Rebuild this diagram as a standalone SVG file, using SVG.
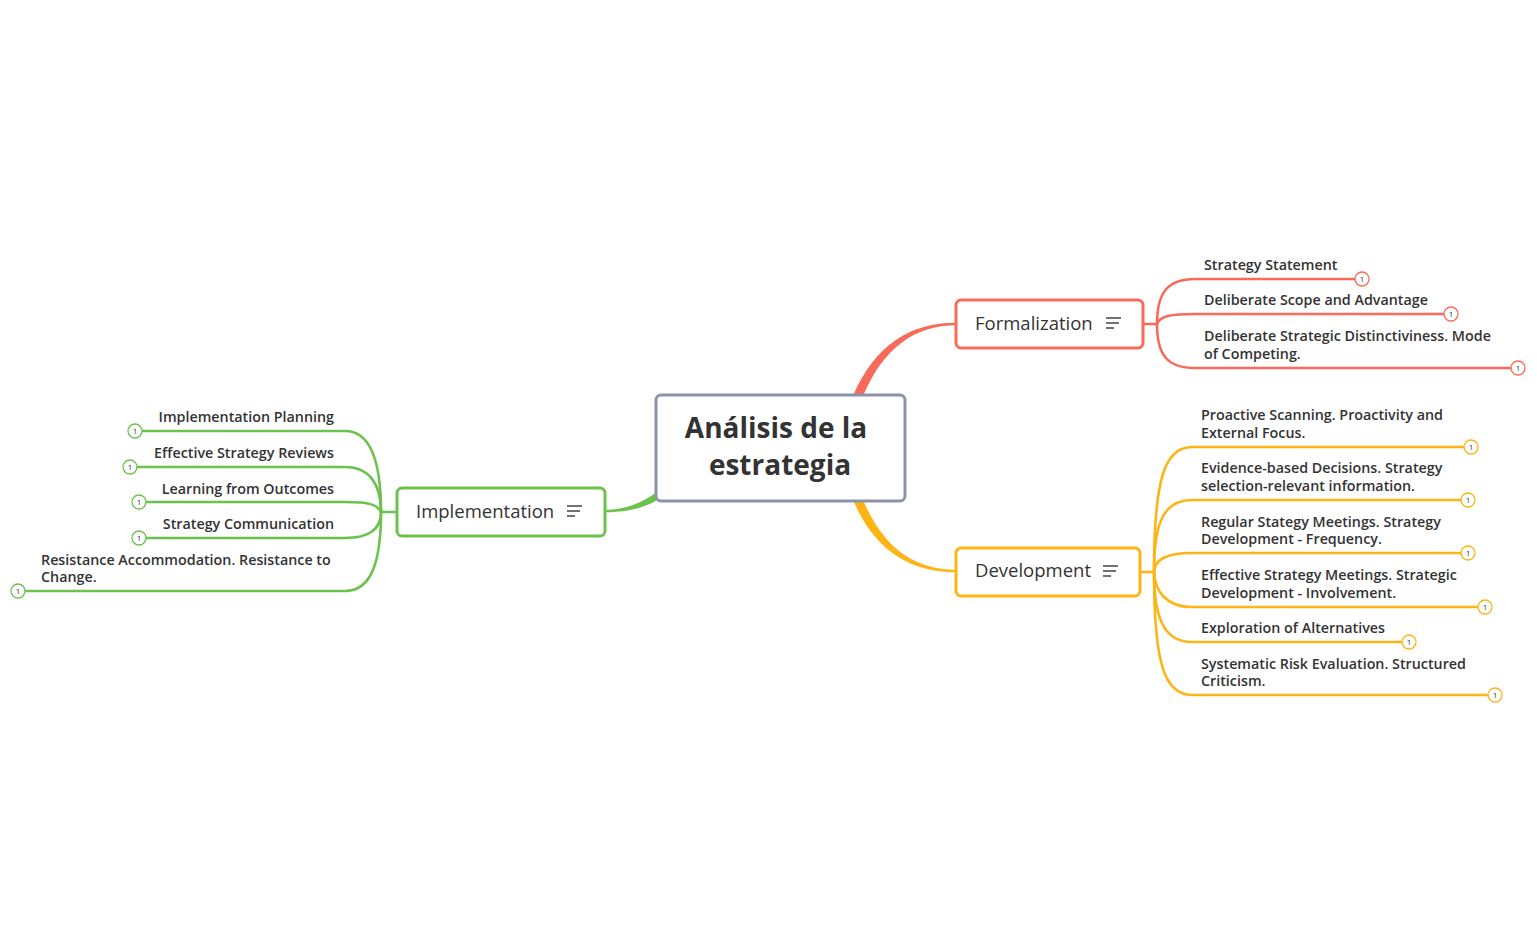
<svg xmlns="http://www.w3.org/2000/svg" width="1537" height="951" viewBox="0 0 1537 951">
<style>
.bg{fill:#ffffff}
.central rect{fill:#fff;stroke:#8a93a8;stroke-width:3}
.central text{font-family:"Open Sans","Liberation Sans",sans-serif;font-weight:700;font-size:28px;fill:#333;text-anchor:middle}
.topic rect{fill:#fff;stroke-width:3}
.topic text{font-family:"Open Sans","Liberation Sans",sans-serif;font-size:18.5px;fill:#333}
.icon{stroke:#444;stroke-width:1.3}
.sub text{font-family:"Open Sans","Liberation Sans",sans-serif;font-weight:600;font-size:14.3px;fill:#333}
.line{fill:none;stroke-width:2.6;stroke-linecap:round}
.badge circle{fill:#fff;stroke-width:1.3}
.badge text{font-family:"Open Sans","Liberation Sans",sans-serif;font-size:8px;font-weight:400;text-anchor:middle}
.red{stroke:#f86b5a}
.org{stroke:#fdb515}
.grn{stroke:#6cc24d}
.redf{fill:#f86b5a}
.orgf{fill:#fdb515}
.grnf{fill:#6cc24d}
</style>
<rect class="bg" x="0" y="0" width="1537" height="951"/>

<g id="connectors">
  <path class="redf" d="M 853 396 C 875 344, 912 322.5, 956 322.8 L 956 325.2 C 915 325.5, 884 347, 863 396 Z"/>
  <path class="orgf" d="M 853 500 C 875 552, 912 572.5, 956 572.2 L 956 569.8 C 915 569.5, 884 549, 863 500 Z"/>
  <path class="grnf" d="M 657 492 C 641 503, 626 509.8, 605 509.8 L 605 512.2 C 628 512.2, 644 508, 659 499 Z"/>

  <path class="line red" d="M 1143 324 L 1157 324"/>
  <path class="line red" d="M 1157 324 C 1157 292, 1168 279, 1195 279 L 1355 279"/>
  <path class="line red" d="M 1157 324 C 1160 316, 1170 314, 1195 314 L 1444 314"/>
  <path class="line red" d="M 1157 324 C 1157 356, 1168 368, 1195 368 L 1511 368"/>

  <path class="line org" d="M 1140 572 L 1154 572"/>
  <path class="line org" d="M 1154 572 C 1154 478, 1165 447, 1192 447 L 1464 447"/>
  <path class="line org" d="M 1154 572 C 1154 520, 1165 500, 1192 500 L 1461 500"/>
  <path class="line org" d="M 1154 572 C 1155 560, 1165 553, 1192 553 L 1461 553"/>
  <path class="line org" d="M 1154 572 C 1155 590, 1165 607, 1192 607 L 1478 607"/>
  <path class="line org" d="M 1154 572 C 1154 620, 1165 642, 1192 642 L 1402 642"/>
  <path class="line org" d="M 1154 572 C 1154 665, 1165 695, 1192 695 L 1488 695"/>

  <path class="line grn" d="M 397 512 L 381 512"/>
  <path class="line grn" d="M 381 512 C 381 460, 370 431, 345 431 L 142 431"/>
  <path class="line grn" d="M 381 512 C 381 485, 370 467, 345 467 L 137 467"/>
  <path class="line grn" d="M 381 512 C 378 505, 370 502, 345 502 L 146 502"/>
  <path class="line grn" d="M 381 512 C 381 528, 370 538, 345 538 L 146 538"/>
  <path class="line grn" d="M 381 512 C 381 565, 370 591, 345 591 L 25 591"/>
</g>

<g id="central" class="central">
  <rect x="656" y="395" width="249" height="106" rx="5"/>
  <text x="776" y="438">Análisis de la</text>
  <text x="780" y="475">estrategia</text>
</g>

<g id="formalization" class="topic">
  <rect x="956" y="300" width="187" height="48" rx="5" class="red"/>
  <text x="975" y="330">Formalization</text>
  <path class="icon" d="M 1106 318 H 1121 M 1106 323 H 1119 M 1106 328 H 1114"/>
</g>
<g id="development" class="topic">
  <rect x="956" y="548" width="184" height="48" rx="5" class="org"/>
  <text x="975" y="577">Development</text>
  <path class="icon" d="M 1103 566 H 1118 M 1103 571 H 1116 M 1103 576 H 1111"/>
</g>
<g id="implementation" class="topic">
  <rect x="397" y="488" width="208" height="48" rx="5" class="grn"/>
  <text x="416" y="518">Implementation</text>
  <path class="icon" d="M 567 506 H 582 M 567 511 H 580 M 567 516 H 575"/>
</g>

<g id="f1" class="sub"><text x="1204" y="270">Strategy Statement</text>
  <g class="badge"><circle class="red" cx="1362" cy="279" r="7"/><text class="redf" x="1362" y="282">1</text></g></g>
<g id="f2" class="sub"><text x="1204" y="305">Deliberate Scope and Advantage</text>
  <g class="badge"><circle class="red" cx="1451" cy="314" r="7"/><text class="redf" x="1451" y="317">1</text></g></g>
<g id="f3" class="sub"><text x="1204" y="341">Deliberate Strategic Distinctiviness. Mode</text><text x="1204" y="359">of Competing.</text>
  <g class="badge"><circle class="red" cx="1518" cy="368" r="7"/><text class="redf" x="1518" y="371">1</text></g></g>

<g id="d1" class="sub"><text x="1201" y="420">Proactive Scanning. Proactivity and</text><text x="1201" y="438">External Focus.</text>
  <g class="badge"><circle class="org" cx="1471" cy="447" r="7"/><text class="orgf" x="1471" y="450">1</text></g></g>
<g id="d2" class="sub"><text x="1201" y="473">Evidence-based Decisions. Strategy</text><text x="1201" y="491">selection-relevant information.</text>
  <g class="badge"><circle class="org" cx="1468" cy="500" r="7"/><text class="orgf" x="1468" y="503">1</text></g></g>
<g id="d3" class="sub"><text x="1201" y="527">Regular Stategy Meetings. Strategy</text><text x="1201" y="544">Development - Frequency.</text>
  <g class="badge"><circle class="org" cx="1468" cy="553" r="7"/><text class="orgf" x="1468" y="556">1</text></g></g>
<g id="d4" class="sub"><text x="1201" y="580">Effective Strategy Meetings. Strategic</text><text x="1201" y="598">Development - Involvement.</text>
  <g class="badge"><circle class="org" cx="1485" cy="607" r="7"/><text class="orgf" x="1485" y="610">1</text></g></g>
<g id="d5" class="sub"><text x="1201" y="633">Exploration of Alternatives</text>
  <g class="badge"><circle class="org" cx="1409" cy="642" r="7"/><text class="orgf" x="1409" y="645">1</text></g></g>
<g id="d6" class="sub"><text x="1201" y="669">Systematic Risk Evaluation. Structured</text><text x="1201" y="686">Criticism.</text>
  <g class="badge"><circle class="org" cx="1495" cy="695" r="7"/><text class="orgf" x="1495" y="698">1</text></g></g>

<g id="i1" class="sub"><text x="334" y="422" text-anchor="end">Implementation Planning</text>
  <g class="badge"><circle class="grn" cx="135" cy="431" r="7"/><text class="grnf" x="135" y="434">1</text></g></g>
<g id="i2" class="sub"><text x="334" y="458" text-anchor="end">Effective Strategy Reviews</text>
  <g class="badge"><circle class="grn" cx="130" cy="467" r="7"/><text class="grnf" x="130" y="470">1</text></g></g>
<g id="i3" class="sub"><text x="334" y="494" text-anchor="end">Learning from Outcomes</text>
  <g class="badge"><circle class="grn" cx="139" cy="502" r="7"/><text class="grnf" x="139" y="505">1</text></g></g>
<g id="i4" class="sub"><text x="334" y="529" text-anchor="end">Strategy Communication</text>
  <g class="badge"><circle class="grn" cx="139" cy="538" r="7"/><text class="grnf" x="139" y="541">1</text></g></g>
<g id="i5" class="sub"><text x="41" y="565">Resistance Accommodation. Resistance to</text><text x="41" y="582">Change.</text>
  <g class="badge"><circle class="grn" cx="18" cy="591" r="7"/><text class="grnf" x="18" y="594">1</text></g></g>
</svg>
